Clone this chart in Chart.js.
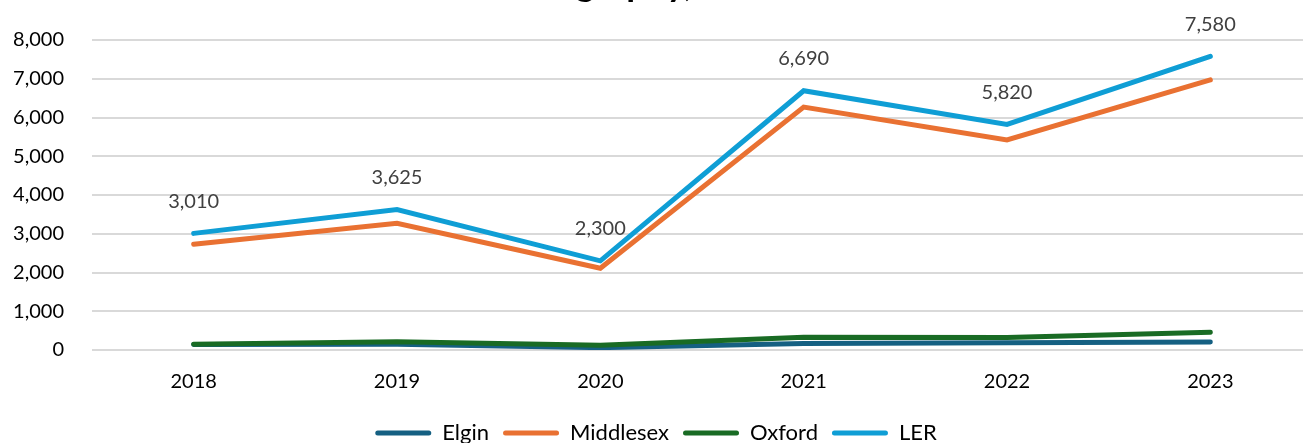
<!DOCTYPE html>
<html lang="en">
<head>
  <meta charset="UTF-8">
  <title>Geography</title>
  <script src="https://cdn.jsdelivr.net/npm/chart.js"></script>
  <style>
    html, body {
      margin: 0;
      padding: 0;
      background: #fff;
      overflow: hidden;
      width: 1303px;
      height: 443px;
    }
    #wrap {
      position: relative;
      width: 1320px;
      height: 454px;
    }
    #titulo {
      position: absolute;
      left: 510px;
      top: -36px;
      font-family: Lato, sans-serif;
      font-weight: bold;
      font-size: 36px;
      line-height: 36px;
      color: #000;
      white-space: nowrap;
    }
  </style>
</head>
<body>
  <div id="wrap">
    <canvas id="grafico"></canvas>
    <div id="titulo">Geography,</div>
  </div>

  <script>
    const anos = ['2018', '2019', '2020', '2021', '2022', '2023'];
    const elgin = [140, 150, 60, 165, 185, 205];
    const middlesex = [2730, 3270, 2110, 6270, 5420, 6970];
    const oxford = [150, 210, 120, 330, 320, 460];
    const ler = [3010, 3625, 2300, 6690, 5820, 7580];

    const fonte = 'Lato, sans-serif';

    function serie(label, data, cor, ordem) {
      return {
        label,
        data,
        borderColor: cor,
        backgroundColor: cor,
        borderWidth: 5,
        pointRadius: 0,
        tension: 0,
        borderCapStyle: 'round',
        borderJoinStyle: 'miter',
        order: ordem
      };
    }

    // etiquetas só na série LER
    const etiquetas = {
      id: 'etiquetas',
      afterDatasetsDraw(chart) {
        const ctx = chart.ctx;
        const meta = chart.getDatasetMeta(3);
        ctx.save();
        ctx.font = '20px ' + fonte;
        ctx.fillStyle = '#404040';
        ctx.textAlign = 'center';
        ctx.textBaseline = 'middle';
        meta.data.forEach((p, i) => {
          ctx.fillText(ler[i].toLocaleString('en-US'), p.x, p.y - 32);
        });
        ctx.restore();
      }
    };

    const ctx = document.getElementById('grafico').getContext('2d');
    new Chart(ctx, {
      type: 'line',
      data: {
        labels: anos,
        datasets: [
          serie('Elgin', elgin, '#156082', 4),
          serie('Middlesex', middlesex, '#E97132', 3),
          serie('Oxford', oxford, '#196B24', 2),
          serie('LER', ler, '#0F9ED5', 1)
        ]
      },
      options: {
        responsive: true,
        maintainAspectRatio: false,
        animation: false,
        layout: { padding: { top: 39, right: 8, left: 0, bottom: 0 } },
        plugins: {
          tooltip: { enabled: false },
          legend: {
            position: 'bottom',
            labels: {
              font: { family: fonte, size: 22 },
              color: '#000',
              boxWidth: 56,
              boxHeight: 5,
              useBorderRadius: true,
              borderRadius: 2.5,
              padding: 14,
              sort: (a, b) => a.datasetIndex - b.datasetIndex,
              generateLabels(chart) {
                const itens = Chart.defaults.plugins.legend.labels.generateLabels(chart);
                itens.forEach(it => { it.lineWidth = 0; });
                return itens;
              }
            }
          }
        },
        scales: {
          x: {
            offset: true,
            grid: { display: false, drawTicks: false },
            border: { display: false },
            ticks: { font: { family: fonte, size: 20 }, color: '#000', padding: 20 },
            afterFit(scale) { scale.height = 58; }
          },
          y: {
            min: 0,
            max: 8000,
            grid: { color: '#d9d9d9', lineWidth: 2, drawTicks: false },
            border: { display: false },
            ticks: {
              stepSize: 1000,
              font: { family: fonte, size: 20 },
              color: '#000',
              padding: 28,
              callback: v => v.toLocaleString('en-US')
            },
            afterFit(scale) { scale.width = 92; }
          }
        }
      },
      plugins: [etiquetas]
    });
  </script>
</body>
</html>
